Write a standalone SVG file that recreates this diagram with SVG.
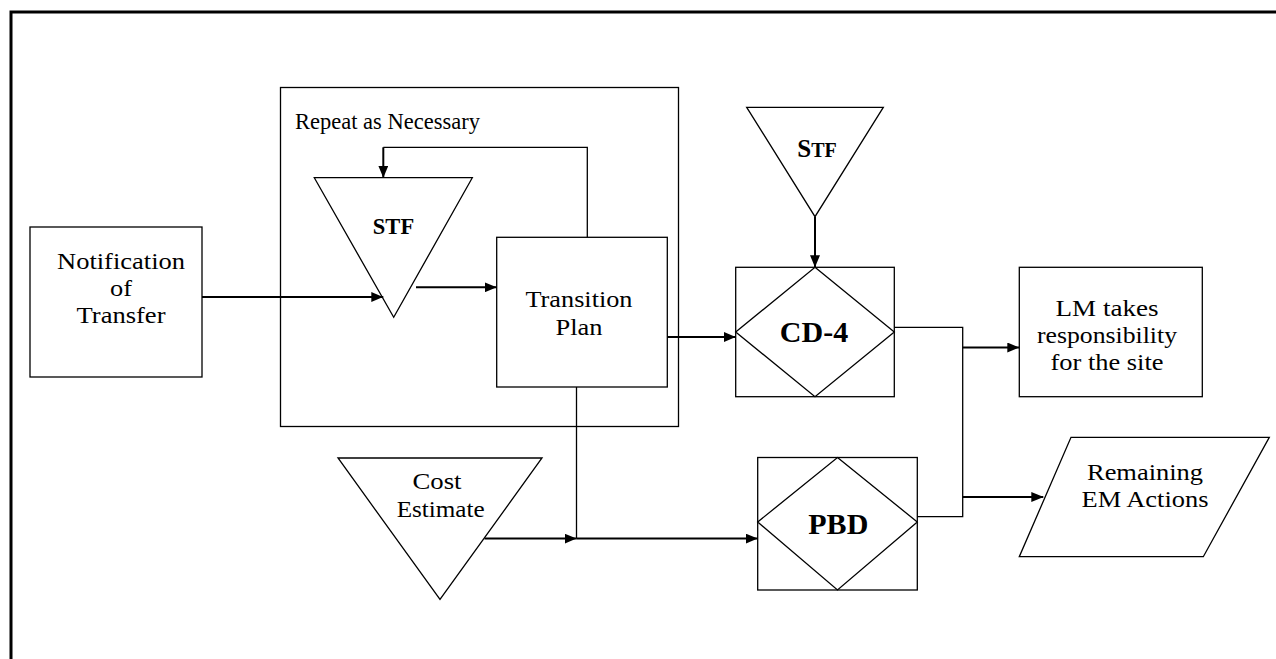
<svg xmlns="http://www.w3.org/2000/svg" width="1276" height="659" viewBox="0 0 1276 659">
<style>
.shape{fill:#fff;stroke:#000;stroke-width:1.3}
.t{font-family:"Liberation Serif","Times New Roman",serif;font-size:24px;fill:#000;text-anchor:middle}
.b{font-weight:bold}
.thin{fill:none;stroke:#000;stroke-width:1.3}
.arr{fill:none;stroke:#000;stroke-width:2;marker-end:url(#ah)}
</style>
<defs>
<marker id="ah" viewBox="0 0 12 10" refX="12" refY="5" markerWidth="12" markerHeight="10" markerUnits="userSpaceOnUse" orient="auto">
<path d="M0,0 L12,5 L0,10 Z" fill="#000"/>
</marker>
</defs>
<rect width="1276" height="659" fill="#fff"/>
<path d="M11,659 V12 H1276" fill="none" stroke="#000" stroke-width="3"/>

<g id="repeat-box">
<rect class="shape" x="280.5" y="87.5" width="398" height="339"/>
<text class="t" x="295" y="129" style="font-size:22.5px;text-anchor:start">Repeat as Necessary</text>
</g>

<g id="notification">
<rect class="shape" x="30" y="227" width="172" height="150"/>
<text class="t" x="121" y="268.5" textLength="128" lengthAdjust="spacingAndGlyphs">Notification</text>
<text class="t" x="121" y="295.5" textLength="22" lengthAdjust="spacingAndGlyphs">of</text>
<text class="t" x="121" y="322.5" textLength="89" lengthAdjust="spacingAndGlyphs">Transfer</text>
</g>

<g id="stf1">
<polygon class="shape" points="314.3,177.7 472.3,177.7 393.7,317.3"/>
<text class="t b" x="393.5" y="234" style="font-size:22.5px">STF</text>
</g>

<g id="transition-plan">
<rect class="shape" x="496.7" y="237.3" width="170.6" height="149.7"/>
<text class="t" x="579" y="306.5" textLength="107" lengthAdjust="spacingAndGlyphs">Transition</text>
<text class="t" x="579" y="334.5" textLength="47" lengthAdjust="spacingAndGlyphs">Plan</text>
</g>

<g id="stf2">
<polygon class="shape" points="746.7,107.3 883.3,107.3 815,216.7"/>
<text class="t b" x="817" y="156.5"><tspan style="font-size:25px">S</tspan><tspan style="font-size:20px">TF</tspan></text>
</g>

<g id="cd4">
<rect class="shape" x="735.7" y="267.3" width="158.6" height="129.4"/>
<polygon class="shape" points="815,267.3 894.3,332 815,396.7 735.7,332"/>
<text class="t b" x="814" y="341.7" style="font-size:30px">CD-4</text>
</g>

<g id="lm">
<rect class="shape" x="1019.3" y="267.3" width="183" height="129.4"/>
<text class="t" x="1107" y="316" textLength="103" lengthAdjust="spacingAndGlyphs">LM takes</text>
<text class="t" x="1107" y="343" textLength="140" lengthAdjust="spacingAndGlyphs">responsibility</text>
<text class="t" x="1107" y="370" textLength="113" lengthAdjust="spacingAndGlyphs">for the site</text>
</g>

<g id="remaining">
<polygon class="shape" points="1071,437.3 1269.3,437.3 1203.3,556.7 1019.3,556.7"/>
<text class="t" x="1145" y="480" textLength="116" lengthAdjust="spacingAndGlyphs">Remaining</text>
<text class="t" x="1145" y="507" textLength="127" lengthAdjust="spacingAndGlyphs">EM Actions</text>
</g>

<g id="pbd">
<rect class="shape" x="757.7" y="457.5" width="159.6" height="132.5"/>
<polygon class="shape" points="837.5,457.5 917.3,522 837.5,590 757.7,522"/>
<text class="t b" x="838.3" y="533.5" style="font-size:30px">PBD</text>
</g>

<g id="cost-estimate">
<polygon class="shape" points="338,458 542,458 440,599.5"/>
<text class="t" x="437" y="488.6" textLength="49" lengthAdjust="spacingAndGlyphs">Cost</text>
<text class="t" x="440.7" y="516.6" textLength="88" lengthAdjust="spacingAndGlyphs">Estimate</text>
</g>

<g id="connectors">
<line class="arr" x1="202" y1="297" x2="383.3" y2="297"/>
<line class="arr" x1="416" y1="287.3" x2="496.7" y2="287.3"/>
<path class="thin" d="M587.3,237.3 V147.3 H383.3"/>
<line class="arr" x1="383.3" y1="147.3" x2="383.3" y2="177.7"/>
<line class="arr" x1="667.3" y1="337" x2="735.7" y2="337"/>
<line class="arr" x1="815" y1="216.7" x2="815" y2="267.3"/>
<path class="thin" d="M894.3,327.3 H962.7 V516.7 H917.3"/>
<line class="arr" x1="962.7" y1="347.5" x2="1019.3" y2="347.5"/>
<line class="arr" x1="962.7" y1="497" x2="1043.3" y2="497"/>
<line class="thin" x1="576.5" y1="387" x2="576.5" y2="538.6"/>
<line class="arr" x1="484.5" y1="538.6" x2="576.5" y2="538.6"/>
<line class="arr" x1="576.5" y1="538.6" x2="757.7" y2="538.6"/>
</g>
</svg>
